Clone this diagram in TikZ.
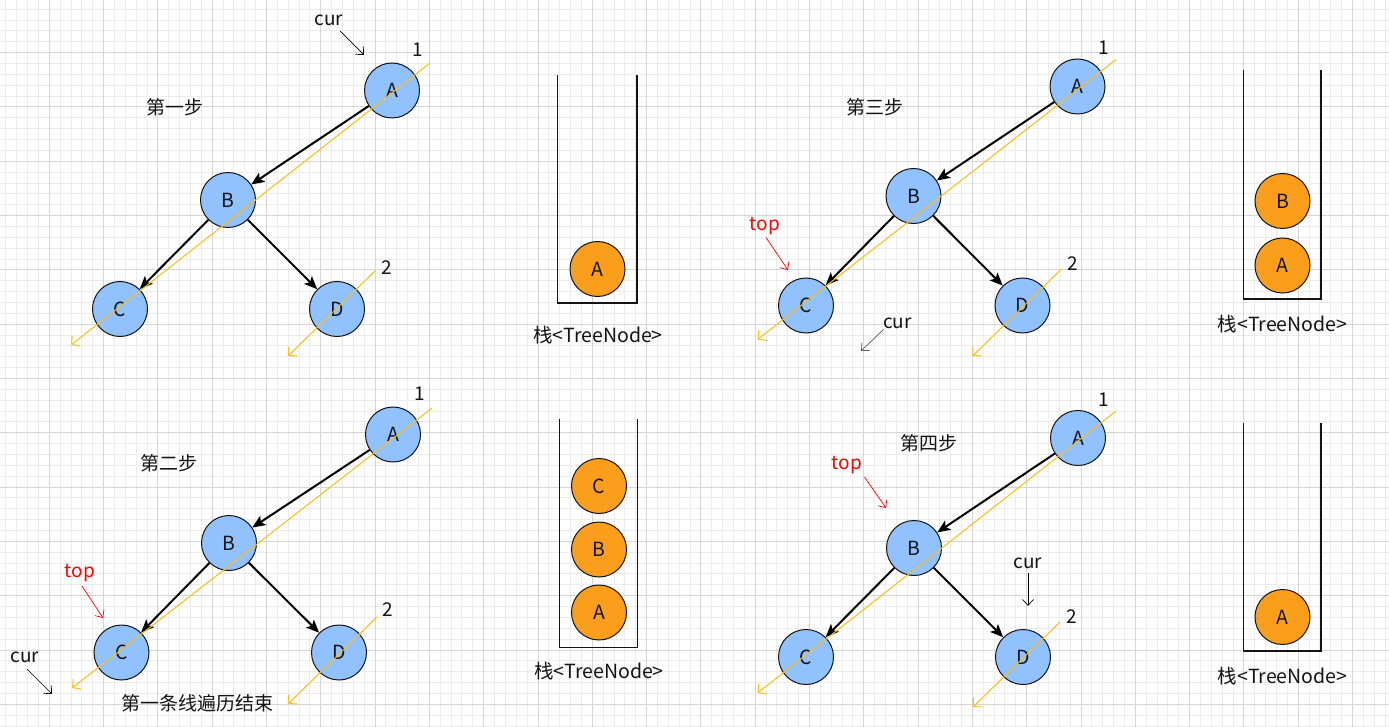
\documentclass[tikz,border=0pt]{standalone}
\usepackage{fontspec}
\setmainfont{Noto Sans CJK SC}
\usetikzlibrary{arrows.meta}
\definecolor{gridminor}{RGB}{236,236,236}
\definecolor{gridmajor}{RGB}{214,214,214}
\definecolor{nodeblue}{RGB}{145,194,255}
\definecolor{nodeorange}{RGB}{250,158,28}
\definecolor{pathorange}{RGB}{255,190,20}
\definecolor{labelred}{RGB}{255,0,0}
\definecolor{inkdark}{RGB}{20,20,20}
\begin{document}
\begin{tikzpicture}[x=1pt,y=-1pt,
  tnode/.style={circle,draw=inkdark,line width=1pt,fill=nodeblue,minimum size=55pt,inner sep=0pt,text=inkdark,font=\fontsize{19.5}{21}\selectfont},
  snode/.style={tnode,fill=nodeorange},
  edge/.style={line width=2pt,-{Stealth[length=13pt,width=11pt,inset=3pt]}},
  trav/.style={pathorange,line width=1pt,-{Straight Barb[length=6pt,width=13pt]}},
  ptr/.style={line width=0.7pt,-{Straight Barb[length=6pt,width=11pt]}},
  redptr/.style={ptr,labelred},
  grayptr/.style={ptr,black!65},
  lbl/.style={font=\fontsize{19}{21}\selectfont,inner sep=0pt,text=inkdark},
  redlbl/.style={lbl,text=labelred},
  stacklbl/.style={lbl,font=\fontsize{19.5}{21}\selectfont},
  stackwall/.style={line width=1.5pt,draw=inkdark}]
\useasboundingbox (0,0) rectangle (1389,727);
\fill[white] (0,0) rectangle (1389,727);
% grid
\foreach \i in {0,...,128} {\draw[gridminor,line width=1pt] ({-5+10.86*\i},0) -- ({-5+10.86*\i},727);}
\foreach \j in {0,...,67} {\draw[gridminor,line width=1pt] (0,{-1.6+10.86*\j}) -- (1389,{-1.6+10.86*\j});}
\foreach \i in {0,...,26} {\draw[gridmajor,line width=1pt] ({-5+54.3*\i},0) -- ({-5+54.3*\i},727);}
\foreach \j in {0,...,14} {\draw[gridmajor,line width=1pt] (0,{-1.6+54.3*\j}) -- (1389,{-1.6+54.3*\j});}

% ---------- panel 1 ----------
\node[tnode] (a1) at (392,90.5) {A};
\node[tnode] (b1) at (228,200) {B};
\node[tnode] (c1) at (120,309) {C};
\node[tnode] (d1) at (337,309) {D};
\draw[edge] (a1) -- (b1);
\draw[edge] (b1) -- (c1);
\draw[edge] (b1) -- (d1);
\coordinate (t1s) at (430,63); \coordinate (t1e) at (71,345);
\coordinate (u1s) at (376,270); \coordinate (u1e) at (288,356);
\draw[trav] (t1s) -- (t1e);
\draw[trav] (u1s) -- (u1e);
\node[lbl] (step1) at (175,107) {第一步};
\node[lbl] (cur1) at (329,20) {cur};
\coordinate (cur1a) at (340,31); \coordinate (cur1b) at (364,55);
\draw[ptr] (cur1a) -- (cur1b);
\node[lbl] (one1) at (418,50) {1};
\node[lbl] (two1) at (387,268) {2};

% stack 1
\coordinate (s1tl) at (557.5,75); \coordinate (s1bl) at (557.5,303);
\coordinate (s1br) at (637,303); \coordinate (s1tr) at (637,75);
\draw[stackwall] (s1tl) -- (s1bl) -- (s1br) -- (s1tr);
\node[snode] (s1a) at (597.5,269) {A};
\node[stacklbl] (s1lbl) at (598,335) {栈<TreeNode>};

% ---------- panel 2 ----------
\node[tnode] (a2) at (393,434.5) {A};
\node[tnode] (b2) at (229,543) {B};
\node[tnode] (c2) at (121.5,652.5) {C};
\node[tnode] (d2) at (339,652.5) {D};
\draw[edge] (a2) -- (b2);
\draw[edge] (b2) -- (c2);
\draw[edge] (b2) -- (d2);
\coordinate (t2s) at (432,408); \coordinate (t2e) at (72,688);
\coordinate (u2s) at (377,617); \coordinate (u2e) at (288,704);
\draw[trav] (t2s) -- (t2e);
\draw[trav] (u2s) -- (u2e);
\node[lbl] (step2) at (169,463) {第二步};
\node[lbl] (one2) at (420,394) {1};
\node[lbl] (two2) at (388,610) {2};
\node[redlbl] (top2) at (80,573) {top};
\coordinate (top2a) at (82,586); \coordinate (top2b) at (103,618);
\draw[redptr] (top2a) -- (top2b);
\node[lbl] (cur2) at (25,657) {cur};
\coordinate (cur2a) at (27,669); \coordinate (cur2b) at (52,694);
\draw[ptr] (cur2a) -- (cur2b);
\node[lbl] (end2) at (197,703) {第一条线遍历结束};

% stack 2
\coordinate (s2tl) at (559.5,418.5); \coordinate (s2bl) at (559.5,647.5);
\coordinate (s2br) at (637.5,647.5); \coordinate (s2tr) at (637.5,418.5);
\draw[stackwall] (s2tl) -- (s2bl) -- (s2br) -- (s2tr);
\node[snode] (s2c) at (599,486) {C};
\node[snode] (s2b) at (599,549.5) {B};
\node[snode] (s2a) at (599,612.5) {A};
\node[stacklbl] (s2lbl) at (599,671) {栈<TreeNode>};

% ---------- panel 3 ----------
\node[tnode] (a3) at (1077.5,86.5) {A};
\node[tnode] (b3) at (913.5,196) {B};
\node[tnode] (c3) at (806,305.5) {C};
\node[tnode] (d3) at (1022.5,305.5) {D};
\draw[edge] (a3) -- (b3);
\draw[edge] (b3) -- (c3);
\draw[edge] (b3) -- (d3);
\coordinate (t3s) at (1116,59.5); \coordinate (t3e) at (757.5,339.5);
\coordinate (u3s) at (1061,269.5); \coordinate (u3e) at (972.5,356);
\draw[trav] (t3s) -- (t3e);
\draw[trav] (u3s) -- (u3e);
\node[lbl] (step3) at (875,107.5) {第三步};
\node[lbl] (one3) at (1104,47.5) {1};
\node[lbl] (two3) at (1073,263.5) {2};
\node[redlbl] (top3) at (765,226.5) {top};
\coordinate (top3a) at (766,237.5); \coordinate (top3b) at (788,270);
\draw[redptr] (top3a) -- (top3b);
\node[lbl] (cur3) at (897.5,323.5) {cur};
\coordinate (cur3a) at (883.5,329.5); \coordinate (cur3b) at (861,351);
\draw[grayptr] (cur3a) -- (cur3b);

% stack 3
\coordinate (s3tl) at (1243.5,70.5); \coordinate (s3bl) at (1243.5,299);
\coordinate (s3br) at (1321,299); \coordinate (s3tr) at (1321,70.5);
\draw[stackwall] (s3tl) -- (s3bl) -- (s3br) -- (s3tr);
\node[snode] (s3b) at (1282.5,201) {B};
\node[snode] (s3a) at (1282.5,265.5) {A};
\node[stacklbl] (s3lbl) at (1282.5,324) {栈<TreeNode>};

% ---------- panel 4 ----------
\node[tnode] (a4) at (1078,438) {A};
\node[tnode] (b4) at (914,548) {B};
\node[tnode] (c4) at (806,657) {C};
\node[tnode] (d4) at (1023,657) {D};
\draw[edge] (a4) -- (b4);
\draw[edge] (b4) -- (c4);
\draw[edge] (b4) -- (d4);
\coordinate (t4s) at (1116,411); \coordinate (t4e) at (757.5,693);
\coordinate (u4s) at (1060,622); \coordinate (u4e) at (973,707);
\draw[trav] (t4s) -- (t4e);
\draw[trav] (u4s) -- (u4e);
\node[lbl] (step4) at (929,443) {第四步};
\node[lbl] (one4) at (1104,400) {1};
\node[lbl] (two4) at (1072,617) {2};
\node[redlbl] (top4) at (847,465) {top};
\coordinate (top4a) at (864.5,477); \coordinate (top4b) at (886,508);
\draw[redptr] (top4a) -- (top4b);
\node[lbl] (cur4) at (1028,563) {cur};
\coordinate (cur4a) at (1028,573); \coordinate (cur4b) at (1028,606);
\draw[ptr] (cur4a) -- (cur4b);

% stack 4
\coordinate (s4tl) at (1243.5,422.5); \coordinate (s4bl) at (1243.5,651);
\coordinate (s4br) at (1321,651); \coordinate (s4tr) at (1321,422.5);
\draw[stackwall] (s4tl) -- (s4bl) -- (s4br) -- (s4tr);
\node[snode] (s4a) at (1282.5,617) {A};
\node[stacklbl] (s4lbl) at (1282.5,676) {栈<TreeNode>};
\end{tikzpicture}
\end{document}
